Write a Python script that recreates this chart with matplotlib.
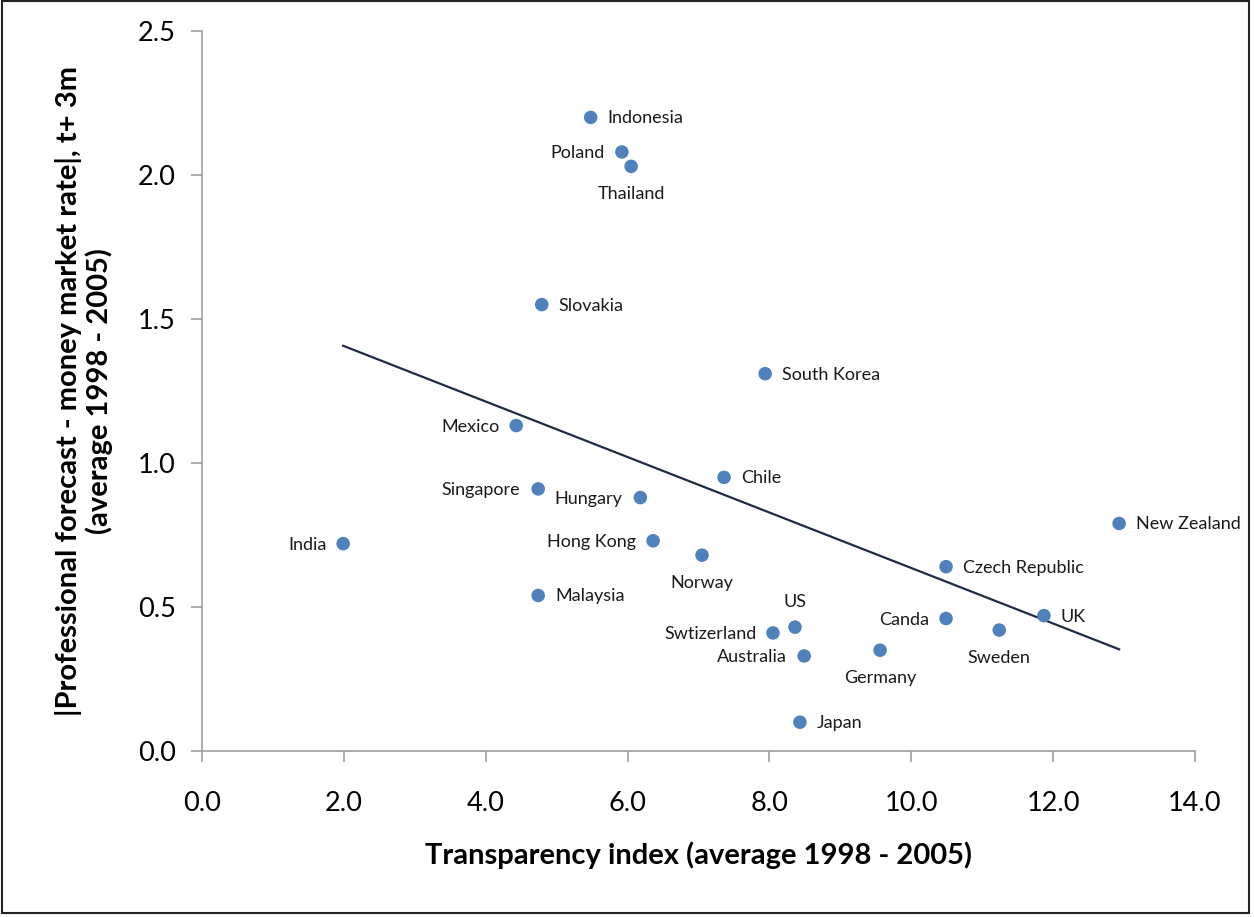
import numpy as np
import matplotlib
matplotlib.use("Agg")
import matplotlib.pyplot as plt
from matplotlib.patches import Rectangle

plt.rcParams['font.family'] = ['Lato', 'DejaVu Sans']

# Data
countries = ['Indonesia', 'Poland', 'Thailand', 'Slovakia', 'South Korea', 'Mexico',
             'Chile', 'Singapore', 'Hungary', 'New Zealand', 'India', 'Hong Kong',
             'Norway', 'Czech Republic', 'Malaysia', 'UK', 'Canda', 'US',
             'Swtizerland', 'Sweden', 'Australia', 'Germany', 'Japan']
transparency = [5.48, 5.92, 6.05, 4.79, 7.94, 4.43,
                7.36, 4.74, 6.18, 12.93, 1.99, 6.36,
                7.05, 10.49, 4.74, 11.87, 10.49, 8.36,
                8.05, 11.24, 8.49, 9.56, 8.43]
forecast_gap = [2.20, 2.08, 2.03, 1.55, 1.31, 1.13,
                0.95, 0.91, 0.88, 0.79, 0.72, 0.73,
                0.68, 0.64, 0.54, 0.47, 0.46, 0.43,
                0.41, 0.42, 0.33, 0.35, 0.10]

# label placement: (dx, dy) in pixels, horizontal alignment
label_pos = {
    'Indonesia': (17, -1, 'left'), 'Poland': (-17, -1, 'right'),
    'Thailand': (0, -28, 'center'), 'Slovakia': (17, -1, 'left'),
    'South Korea': (17, -1, 'left'), 'Mexico': (-17, -1, 'right'),
    'Chile': (17, -1, 'left'), 'Singapore': (-18, -1, 'right'),
    'Hungary': (-18, -1, 'right'), 'New Zealand': (17, -1, 'left'),
    'India': (-16, -1, 'right'), 'Hong Kong': (-17, -1, 'right'),
    'Norway': (0, -28, 'center'), 'Czech Republic': (17, -1, 'left'),
    'Malaysia': (17, -1, 'left'), 'UK': (17, -1, 'left'),
    'Canda': (-17, -1, 'right'), 'US': (0, 25, 'center'),
    'Swtizerland': (-16, -1, 'right'), 'Sweden': (0, -28, 'center'),
    'Australia': (-17, -1, 'right'), 'Germany': (0, -28, 'center'),
    'Japan': (17, -1, 'left'),
}

x = np.array(transparency)
y = np.array(forecast_gap)

fig = plt.figure(figsize=(12.54, 9.17), dpi=100)
ax = fig.add_axes([202 / 1254, 1 - 751 / 917, 993 / 1254, 720 / 917])

ax.scatter(x, y, s=95, color='#4F81BD', zorder=3, edgecolors='none')

# linear trend line
coef = np.polyfit(x, y, 1)
xl = np.array([x.min(), x.max()])
ax.plot(xl, np.polyval(coef, xl), color='#1F2B45', lw=1.6, zorder=2)

for name, xi, yi in zip(countries, x, y):
    dx, dy, ha = label_pos[name]
    ax.annotate(name, (xi, yi), xytext=(dx, dy), textcoords='offset pixels',
                ha=ha, va='center', fontsize=13, color='#1a1a1a')

ax.set_xlim(0, 14)
ax.set_ylim(0, 2.5)
ax.set_xticks(np.arange(0, 14.1, 2))
ax.set_yticks(np.arange(0, 2.51, 0.5))
ax.set_xticklabels([f'{v:.1f}' for v in np.arange(0, 14.1, 2)])
ax.set_yticklabels([f'{v:.1f}' for v in np.arange(0, 2.51, 0.5)])

for s in ['top', 'right']:
    ax.spines[s].set_visible(False)
for s in ['left', 'bottom']:
    ax.spines[s].set_color('#A0A0A0')
    ax.spines[s].set_linewidth(1.2)
ax.tick_params(axis='both', colors='#A0A0A0', length=8, width=1.2,
               labelsize=19.5, labelcolor='black')
ax.tick_params(axis='x', pad=21)
ax.tick_params(axis='y', pad=11)

ax.set_xlabel('Transparency index (average 1998 - 2005)', fontsize=21,
              fontweight='bold', labelpad=18)
ax.set_ylabel('|Professional forecast - money market rate|, t+ 3m\n(average 1998 - 2005)',
              fontsize=21, fontweight='bold', labelpad=18, linespacing=1.15)

# outer frame
fig.patches.append(Rectangle((2 / 1254, 4 / 917), 1247 / 1254, 912 / 917,
                             transform=fig.transFigure, fill=False,
                             edgecolor='#222222', lw=1.5))

fig.savefig('out.png', dpi=100, facecolor='white')
